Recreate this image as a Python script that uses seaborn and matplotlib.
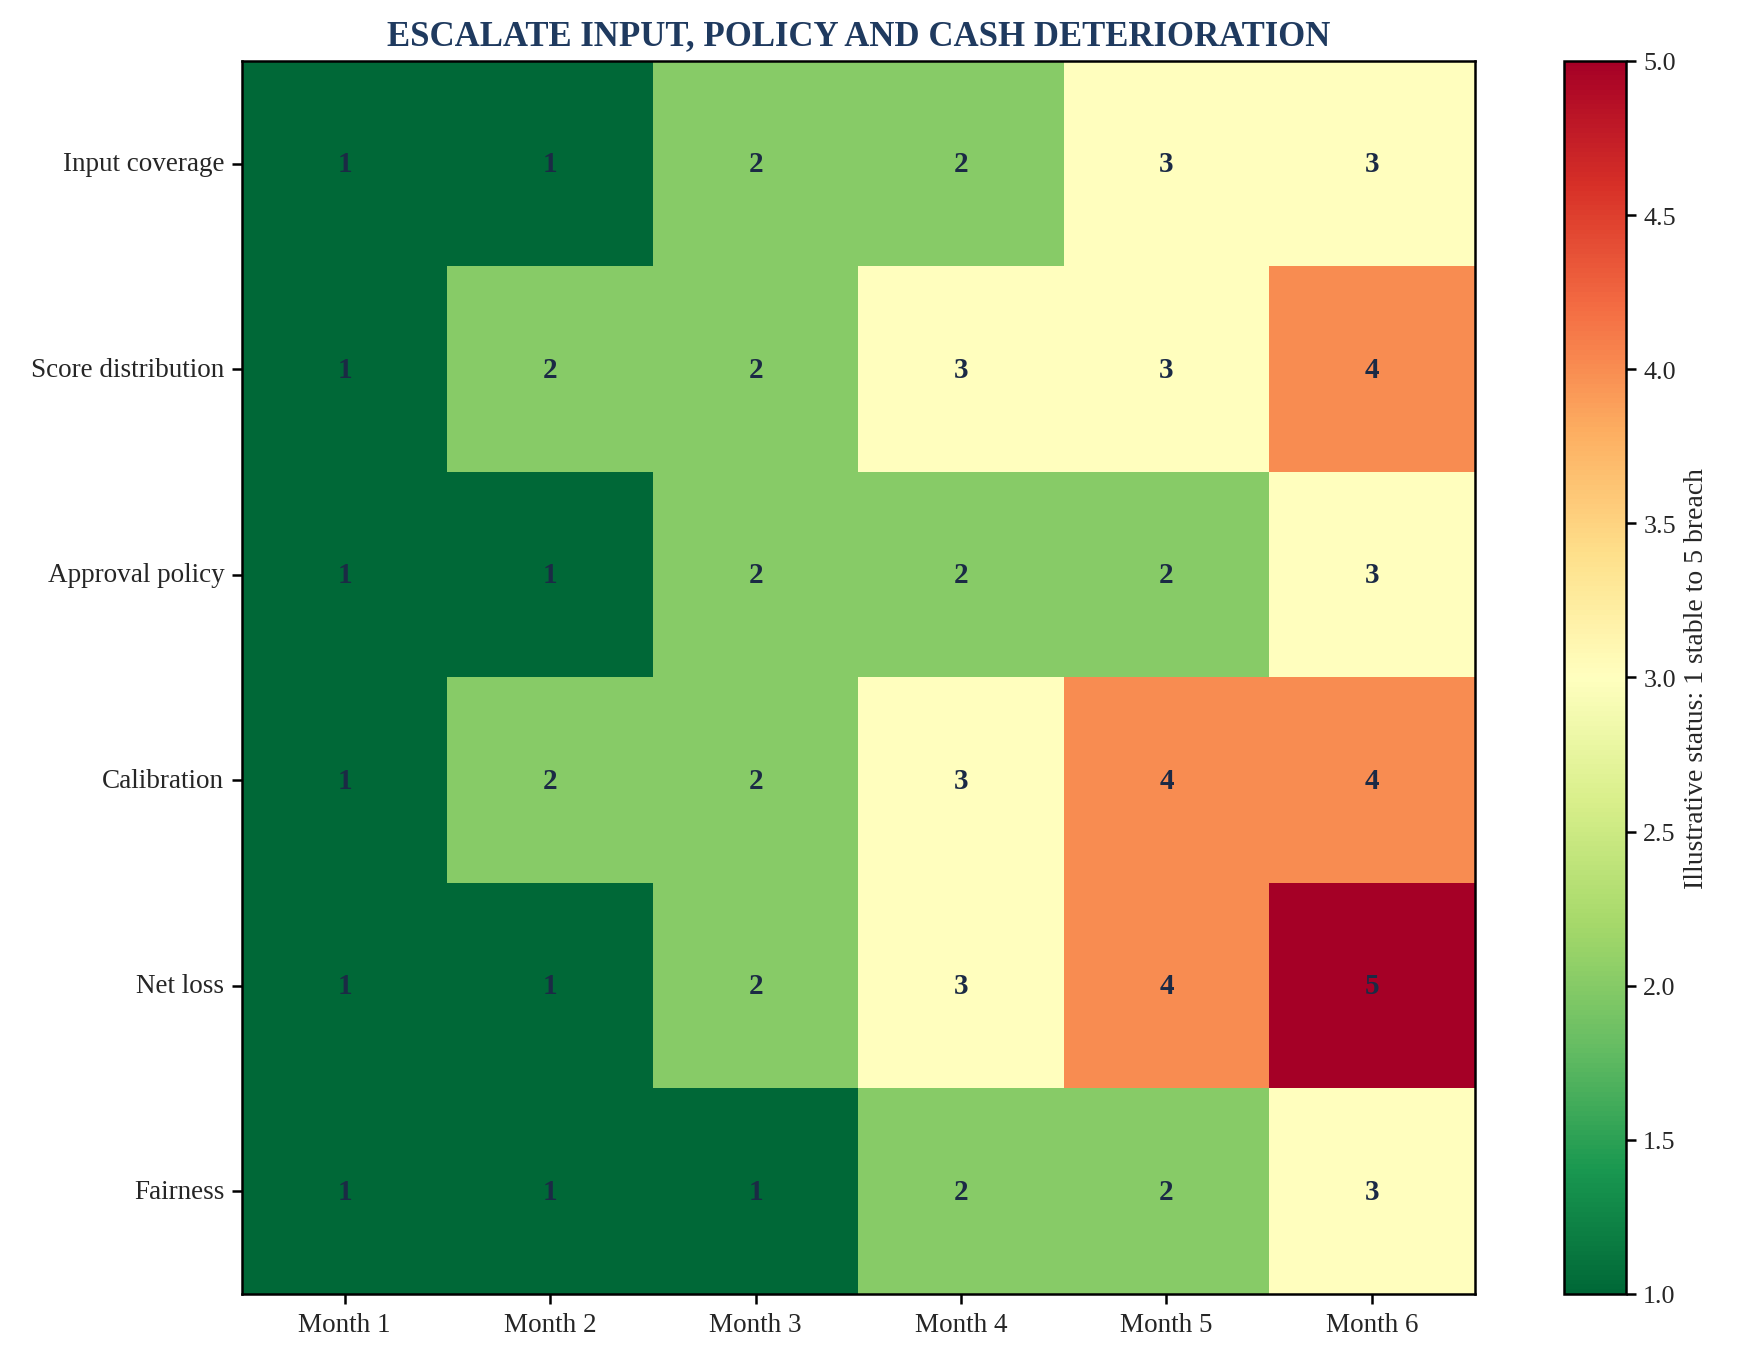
import numpy as np
import pandas as pd
import matplotlib
matplotlib.use("Agg")
import matplotlib.pyplot as plt
import seaborn as sns

sns.set_style("white")
plt.rcParams['font.family'] = ['Liberation Serif', 'DejaVu Serif']

rows = ["Input coverage", "Score distribution", "Approval policy", "Calibration", "Net loss", "Fairness"]
months = ["Month 1", "Month 2", "Month 3", "Month 4", "Month 5", "Month 6"]
input_coverage = [1, 1, 2, 2, 3, 3]
score_distribution = [1, 2, 2, 3, 3, 4]
approval_policy = [1, 1, 2, 2, 2, 3]
calibration = [1, 2, 2, 3, 4, 4]
net_loss = [1, 1, 2, 3, 4, 5]
fairness = [1, 1, 1, 2, 2, 3]

df = pd.DataFrame([input_coverage, score_distribution, approval_policy, calibration, net_loss, fairness],
                  index=rows, columns=months)

fig = plt.figure(figsize=(11.63, 9.093), dpi=150)
ax = fig.add_axes([0.1387, 0.0506, 0.7066, 0.904])
cax = fig.add_axes([0.8963, 0.0506, 0.0355, 0.904])

sns.heatmap(df, ax=ax, cbar_ax=cax, cmap="RdYlGn_r", vmin=1, vmax=5,
            annot=True, fmt="d",
            annot_kws={"fontsize": 14, "fontweight": "bold", "color": "#1b2a45"},
            cbar_kws={"label": "Illustrative status: 1 stable to 5 breach"})

for s in ax.spines.values():
    s.set_visible(True)
    s.set_color("black")
    s.set_linewidth(1.2)
ax.tick_params(axis="both", which="both", length=5, width=1.2, color="black",
               labelsize=13, bottom=True, left=True)
ax.set_yticklabels(rows, rotation=0)
ax.set_xticklabels(months, rotation=0)
ax.set_xlabel("")
ax.set_ylabel("")
ax.set_title("ESCALATE INPUT, POLICY AND CASH DETERIORATION", fontsize=16.7,
             fontweight="bold", color="#1f3a5f", pad=8)

cbar = ax.collections[0].colorbar
cbar.set_ticks(np.arange(1.0, 5.01, 0.5))
cbar.ax.tick_params(labelsize=12.5, length=5, width=1.2, color="black")
cbar.ax.yaxis.label.set_size(13.3)
cbar.outline.set_visible(True)
cbar.outline.set_edgecolor("black")
cbar.outline.set_linewidth(1.2)

fig.savefig("out.png", dpi=150)
